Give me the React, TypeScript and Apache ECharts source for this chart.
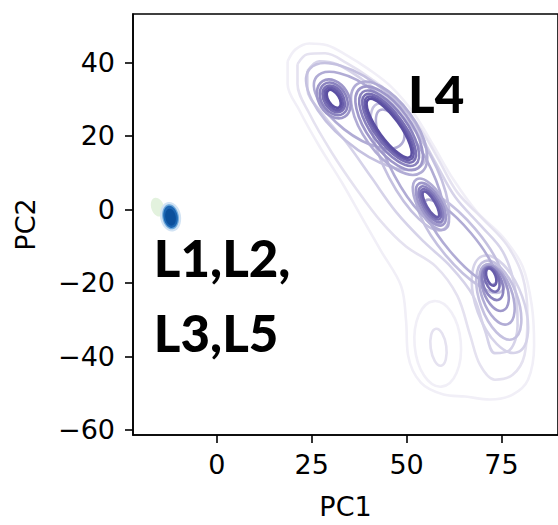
import React, { useEffect, useRef } from "react";
import * as echarts from "echarts";

// ---- axes ----
const X_RANGE = [-22.1, 89.9];
const Y_RANGE = [-61.4, 53.2];
const X_TICKS = [0, 25, 50, 75];
const Y_TICKS = [-60, -40, -20, 0, 20, 40];

// ---- L4 outer KDE contours (PC1, PC2) ----
const L4_LEVEL1 = [
  [18.65, 40.35], [20.73, 43.57], [24.37, 45.18], [29.05, 44.7], [34.25, 41.96],
  [39.97, 38.2], [45.96, 33.37], [51.94, 26.12], [57.14, 17.26], [62.34, 8.13],
  [68.58, -0.72], [75.34, -7.44], [80.55, -15.49], [83.0, -26.23], [83.6, -36.97],
  [82.0, -46.36], [77.95, -50.39], [71.96, -51.73], [65.46, -50.93], [59.74, -50.39],
  [53.76, -47.17], [50.38, -39.65], [49.86, -30.26], [48.56, -20.86], [43.36, -11.46],
  [38.15, -2.07], [32.95, 7.33], [26.97, 17.26], [21.77, 26.93], [18.65, 34.17],
  [18.65, 40.35],
];
const L4_LEVEL2 = [
  [21.25, 39.54], [23.85, 42.23], [28.53, 42.5], [34.25, 39.81], [40.75, 35.52],
  [47.26, 30.15], [53.24, 22.63], [58.18, 14.04], [63.38, 4.64], [70.14, -2.6],
  [76.38, -9.58], [80.55, -18.17], [81.85, -28.91], [81.07, -39.65], [77.95, -45.02],
  [73.26, -46.36], [69.36, -42.34], [66.76, -34.28], [63.38, -23.54], [57.66, -15.49],
  [49.86, -10.12], [43.36, -3.41], [36.85, 5.45], [30.35, 15.38], [24.37, 26.12],
  [21.25, 34.17], [21.25, 39.54],
];
const L4_LEVEL3 = [
  [23.85, 37.66], [26.97, 40.35], [31.65, 39.54], [38.15, 35.52], [45.96, 29.34],
  [52.46, 22.09], [57.66, 12.7], [62.86, 3.3], [69.36, -4.21], [75.34, -11.46],
  [78.47, -20.86], [79.25, -31.6], [77.16, -38.31], [73.26, -39.11], [70.66, -32.94],
  [67.54, -23.54], [61.56, -15.49], [54.54, -8.78], [47.26, -0.72], [40.75, 8.67],
  [34.25, 18.07], [27.75, 26.12], [23.85, 32.83], [23.85, 37.66],
];

// ---- L4 inner contours as ellipses: [cx, cy, semiMajor, semiMinor, tiltDeg, level] ----
const L4_RINGS = [
  [58.4, -37.5, 5.0, 2.1, -82, 2],
  [58.2, -36.6, 11.5, 6.2, -85, 1],
  [39.4, 25.3, 19.8, 8.5, -40, 4],
  [37.5, 27.0, 14.5, 6.5, -38, 5],
  [50.9, 11.6, 19.0, 6.3, -62, 4],
  [50.9, 11.6, 17.2, 4.8, -62, 5],
  [64.2, -8.9, 17.2, 5.3, -50, 4],
  [64.2, -8.9, 14.5, 3.7, -50, 5],
  [30.8, 30.1, 5.6, 4.0, -58, 6],
  [30.8, 30.1, 4.7, 3.3, -58, 7],
  [30.8, 30.1, 3.9, 2.6, -58, 8],
  [30.8, 30.1, 3.3, 2.0, -58, 9],
  [30.8, 30.1, 2.7, 1.45, -58, 10],
  [45.4, 22.1, 14.6, 6.8, -54, 5],
  [45.4, 22.1, 13.2, 5.7, -54, 6],
  [45.4, 22.1, 12.0, 4.7, -54, 7],
  [45.4, 22.1, 11.0, 3.9, -54, 8],
  [45.4, 22.1, 10.2, 3.3, -54, 9],
  [45.4, 22.1, 9.5, 2.8, -54, 10],
  [56.4, 1.4, 7.7, 3.4, -60, 5],
  [56.4, 1.4, 6.4, 2.8, -60, 6],
  [56.4, 1.4, 5.4, 2.2, -60, 7],
  [56.4, 1.4, 4.6, 1.7, -60, 8],
  [56.4, 1.4, 3.9, 1.2, -60, 9],
  [74.6, -25.8, 13.7, 6.3, -70, 3],
  [74.3, -24.7, 11.1, 5.0, -70, 4],
  [73.8, -23.1, 8.5, 4.0, -70, 5],
  [73.3, -21.5, 6.3, 3.2, -70, 6],
  [72.7, -20.2, 4.6, 2.5, -70, 7],
  [72.5, -19.1, 3.4, 1.8, -70, 8],
  [72.3, -18.4, 2.4, 1.2, -70, 9],
];

// ---- L1, L2, L3, L5 cluster: [cx, cy, semiMajor, semiMinor, tiltDeg, shade] ----
const L1235_BLOBS = [
  [-15.6, 0.6, 2.6, 1.7, -70, 0],
  [-12.2, -2.0, 4.0, 2.8, -80, 1],
  [-12.2, -2.0, 3.4, 2.2, -80, 2],
  [-12.2, -2.0, 3.0, 1.9, -80, 3],
  [-12.2, -2.1, 2.3, 1.4, -80, 4],
];

// ---- annotations ----
const LABEL_TEXT = ["L4", "L1,L2,", "L3,L5"];
const LABEL_X = [50.4, -16.6, -16.6];
const LABEL_Y = [31.5, -13.1, -33.4];

const PURPLES = [
  "#f1eff7", "#e5e2f0", "#d6d3e9", "#c5c1e0", "#b1acd5",
  "#9e97ca", "#8b83bf", "#796fb4", "#685daa", "#5b4fa2",
];
const BLOB_COLORS = ["#e3f2de", "#d2e3f4", "#6fa9db", "#1c65b2", "#0b4f9c"];

const minus = (v: number) => (v < 0 ? "\u2212" + Math.abs(v) : String(v));

export default function App() {
  const ref = useRef<HTMLDivElement>(null);

  useEffect(() => {
    if (!ref.current) return;
    const chart = echarts.init(ref.current, null, { renderer: "svg" });

    const envelope = (data: number[][], level: number) => ({
      type: "line",
      data,
      smooth: 0.35,
      showSymbol: false,
      silent: true,
      z: 1,
      lineStyle: { color: PURPLES[level - 1], width: 2.6 },
    });

    const ellipseItem = (api: any, fill: string, stroke: string, z2: number) => {
      const c = api.coord([api.value(0), api.value(1)]);
      const s = api.size([1, 1]);
      const u = (s[0] + s[1]) / 2;
      return {
        type: "ellipse",
        x: c[0],
        y: c[1],
        rotation: (api.value(4) * Math.PI) / 180,
        shape: { cx: 0, cy: 0, rx: api.value(2) * u, ry: api.value(3) * u },
        style: { fill, stroke, lineWidth: 2.6 },
        z2,
      };
    };

    const axisFont = { fontFamily: "DejaVu Sans", fontSize: 27, color: "#000" };

    chart.setOption({
      animation: false,
      backgroundColor: "#ffffff",
      grid: {
        left: 133,
        top: 14,
        right: -6,
        bottom: 84,
        show: true,
        borderColor: "#000",
        borderWidth: 1.6,
        backgroundColor: "transparent",
      },
      xAxis: {
        type: "value",
        min: X_RANGE[0],
        max: X_RANGE[1],
        name: "PC1",
        nameLocation: "middle",
        nameGap: 58,
        nameTextStyle: axisFont,
        axisLine: { show: true, onZero: false, lineStyle: { color: "#000", width: 1.6 } },
        axisTick: { show: true, length: 8, lineStyle: { color: "#000", width: 1.6 }, customValues: X_TICKS },
        axisLabel: { customValues: X_TICKS, formatter: minus, margin: 16, ...axisFont },
        splitLine: { show: false },
      },
      yAxis: {
        type: "value",
        min: Y_RANGE[0],
        max: Y_RANGE[1],
        name: "PC2",
        nameLocation: "middle",
        nameGap: 94,
        nameTextStyle: axisFont,
        axisLine: { show: true, onZero: false, lineStyle: { color: "#000", width: 1.6 } },
        axisTick: { show: true, length: 8, lineStyle: { color: "#000", width: 1.6 }, customValues: Y_TICKS },
        axisLabel: { customValues: Y_TICKS, formatter: minus, margin: 18, ...axisFont },
        splitLine: { show: false },
      },
      series: [
        envelope(L4_LEVEL1, 1),
        envelope(L4_LEVEL2, 2),
        envelope(L4_LEVEL3, 3),
        {
          type: "custom",
          silent: true,
          z: 2,
          data: L4_RINGS,
          renderItem: (_p: any, api: any) =>
            ellipseItem(api, "none", PURPLES[api.value(5) - 1], api.value(5)),
        },
        {
          type: "custom",
          silent: true,
          z: 3,
          data: L1235_BLOBS,
          renderItem: (_p: any, api: any) =>
            ellipseItem(api, BLOB_COLORS[api.value(5)], "none", api.value(5)),
        },
        {
          type: "custom",
          silent: true,
          z: 5,
          data: LABEL_TEXT.map((t, i) => [LABEL_X[i], LABEL_Y[i], i]),
          renderItem: (_p: any, api: any) => {
            const c = api.coord([api.value(0), api.value(1)]);
            return {
              type: "text",
              x: c[0],
              y: c[1],
              style: {
                text: LABEL_TEXT[api.value(2)],
                fill: "#000",
                font: "900 51px Lato, 'Open Sans', sans-serif",
                textAlign: "left",
                textVerticalAlign: "middle",
              },
            };
          },
        },
      ],
    });

    return () => chart.dispose();
  }, []);

  return (
    <div
      ref={ref}
      style={{ position: "fixed", left: 0, top: 0, width: 558, height: 525, background: "#fff" }}
    />
  );
}
